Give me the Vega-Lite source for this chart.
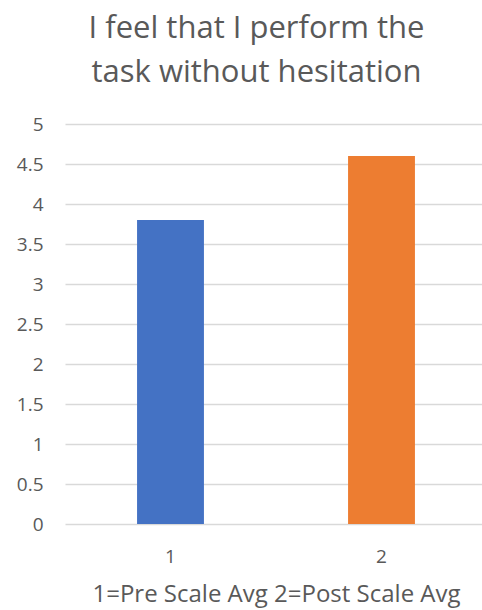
{
  "$schema": "https://vega.github.io/schema/vega-lite/v6.json",
  "autosize": "none",
  "width": 417,
  "height": 400,
  "padding": {"left": 65, "top": 124, "right": 0, "bottom": 86},
  "background": "white",
  "title": {
    "text": ["I feel that I perform the", "task without hesitation"],
    "font": "Open Sans",
    "fontSize": 31,
    "fontWeight": "normal",
    "color": "#595959",
    "lineHeight": 44,
    "anchor": "middle",
    "dx": -17,
    "offset": 26
  },
  "config": {
    "view": {"stroke": null},
    "axis": {
      "labelFont": "Open Sans",
      "titleFont": "Open Sans",
      "labelColor": "#595959",
      "titleColor": "#595959",
      "labelFontSize": 19,
      "titleFontSize": 24,
      "titleFontWeight": "normal"
    }
  },
  "data": {
    "values": [
      {"group": "1", "value": 3.8},
      {"group": "2", "value": 4.6}
    ]
  },
  "mark": {"type": "bar"},
  "encoding": {
    "x": {
      "field": "group",
      "type": "nominal",
      "scale": {"range": [0, 422], "paddingInner": 0.683, "paddingOuter": 0.3415},
      "axis": {
        "title": "1=Pre Scale Avg 2=Post Scale Avg",
        "labelAngle": 0,
        "domain": false,
        "ticks": false,
        "tickSize": 0,
        "labelPadding": 23,
        "titlePadding": 16,
        "titleX": 211
      }
    },
    "y": {
      "field": "value",
      "type": "quantitative",
      "scale": {"domain": [0, 5], "nice": false},
      "axis": {
        "title": null,
        "values": [0, 0.5, 1, 1.5, 2, 2.5, 3, 3.5, 4, 4.5, 5],
        "format": "~g",
        "domain": false,
        "ticks": false,
        "tickSize": 0,
        "labelPadding": 22,
        "gridColor": "#d9d9d9",
        "gridWidth": 1.5
      }
    },
    "color": {
      "field": "group",
      "type": "nominal",
      "scale": {"domain": ["1", "2"], "range": ["#4472C4", "#ED7D31"]},
      "legend": null
    }
  }
}
